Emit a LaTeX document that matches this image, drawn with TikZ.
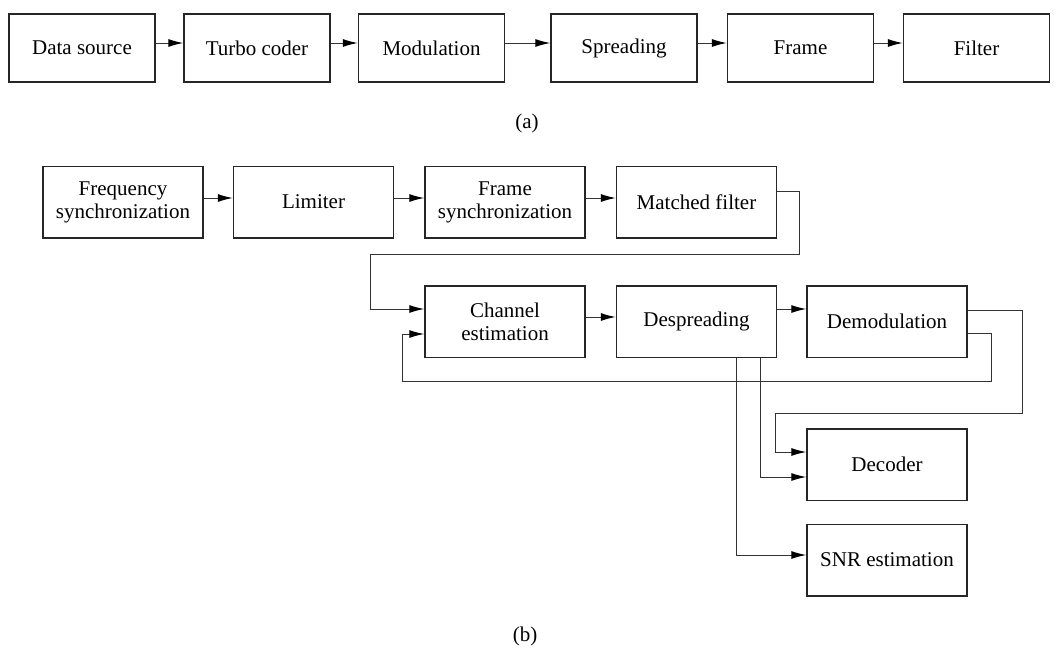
\documentclass[tikz,border=0pt]{standalone}
\usepackage{fontspec}
\setmainfont{Liberation Serif}
\usetikzlibrary{arrows.meta}
\begin{document}
\begin{tikzpicture}[x=1pt,y=-1pt,
  blk/.style={draw=black!85,line width=1.5pt,inner sep=0pt,align=center,
    font=\fontsize{21}{23}\selectfont},
  wa/.style={blk,minimum width=146pt,minimum height=68pt},
  wb/.style={blk,minimum width=160pt,minimum height=71.5pt},
  conn/.style={draw=black!80,line width=1pt},
  arr/.style={conn,-{Latex[length=15pt,width=8pt,color=black]}},
  lbl/.style={font=\fontsize{21}{23}\selectfont}]
\useasboundingbox (0,0) rectangle (1056,648);
% (a)
\node[wa] (a1) at (82,48) {Data source};
\node[wa] (a2) at (257,48) {Turbo coder};
\node[wa] (a3) at (431.5,48) {Modulation};
\node[wa] (a4) at (624,48) {Spreading};
\node[wa] (a5) at (800.5,48) {Frame};
\node[wa] (a6) at (976.5,48) {Filter};
\foreach \i/\j in {a1/a2,a2/a3,a3/a4,a4/a5,a5/a6}
  \draw[arr] ([yshift=5pt]\i.east) -- ([yshift=5pt]\j.west);
\node[lbl] (la) at (527,123) {(a)};
% (b) row 1
\node[wb] (fs) at (123,202) {Frequency\\synchronization};
\node[wb] (lim) at (313.5,202) {Limiter};
\node[wb] (frs) at (505,202) {Frame\\synchronization};
\node[wb] (mf) at (696.5,202) {Matched filter};
\foreach \i/\j in {fs/lim,lim/frs,frs/mf}
  \draw[arr] ([yshift=4pt]\i.east) -- ([yshift=4pt]\j.west);
% row 2
\node[wb] (ce) at (505,321.5) {Channel\\estimation};
\node[wb] (ds) at (696.5,321.5) {Despreading};
\node[wb] (dm) at (887,321.5) {Demodulation};
\node[wb] (dec) at (887,464.5) {Decoder};
\node[wb] (snr) at (887,560) {SNR estimation};
\node[lbl] (lb) at (525,636) {(b)};
% loop matched filter -> channel estimation
\coordinate (r1) at (799,254);
\coordinate (l1) at (370,254);
\draw[arr] ([yshift=11pt]mf.east) -| (r1) -- (l1) |- ([yshift=12.5pt]ce.west);
\draw[arr] ([yshift=4.5pt]ce.east) -- ([yshift=4.5pt]ds.west);
\draw[arr] ([yshift=12.5pt]ds.east) -- ([yshift=12.5pt]dm.west);
% feedback demodulation -> channel estimation
\coordinate (r2) at (991,381);
\coordinate (l2) at (402,381);
\draw[arr] ([yshift=-11.5pt]dm.east) -| (r2) -- (l2) |- ([yshift=-12.5pt]ce.west);
% demodulation -> decoder
\coordinate (r3) at (1022,413);
\coordinate (l3) at (775,413);
\draw[arr] ([yshift=11.5pt]dm.east) -| (r3) -- (l3) |- ([yshift=12.5pt]dec.west);
% despreading -> decoder, snr
\draw[arr] ([xshift=63.5pt]ds.south) |- ([yshift=-12.5pt]dec.west);
\draw[arr] ([xshift=39.5pt]ds.south) |- ([yshift=5pt]snr.west);
\end{tikzpicture}
\end{document}
